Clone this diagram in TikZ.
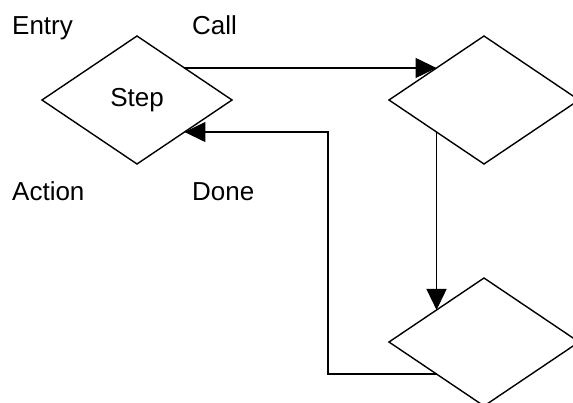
\documentclass[tikz,border=0pt]{standalone}
\usepackage{fontspec}
\setmainfont{Liberation Sans}
\usetikzlibrary{shapes.geometric,arrows.meta}
\begin{document}
\begin{tikzpicture}[x=1pt,y=-1pt,
  dia/.style={draw=black,line width=1.4pt,shape=diamond,minimum width=190pt,minimum height=128pt,inner sep=0pt,outer sep=0pt,font=\fontsize{26}{30}\selectfont},
  lbl/.style={anchor=base west,inner sep=0pt,font=\fontsize{26}{30}\selectfont},
  conn/.style={line width=1.4pt,-{Triangle[length=21pt,width=20pt]}}]
\useasboundingbox (0,0) rectangle (573,402);
\node[dia] (d1) at (137,100) {Step};
\node[dia] (d2) at (484,100) {};
\node[dia] (d3) at (484,342) {};
\coordinate (bend) at (328,250);
\node[lbl] (entry) at (12,34) {Entry};
\node[lbl] (call) at (192,34) {Call};
\node[lbl] (action) at (12,200) {Action};
\node[lbl] (done) at (192,200) {Done};
\draw[conn] (d1.34) -- (d2.146);
\draw[conn] (d2.214) -- (d3.146);
\draw[conn] (d3.214) -| (bend) |- (d1.326);
\end{tikzpicture}
\end{document}
